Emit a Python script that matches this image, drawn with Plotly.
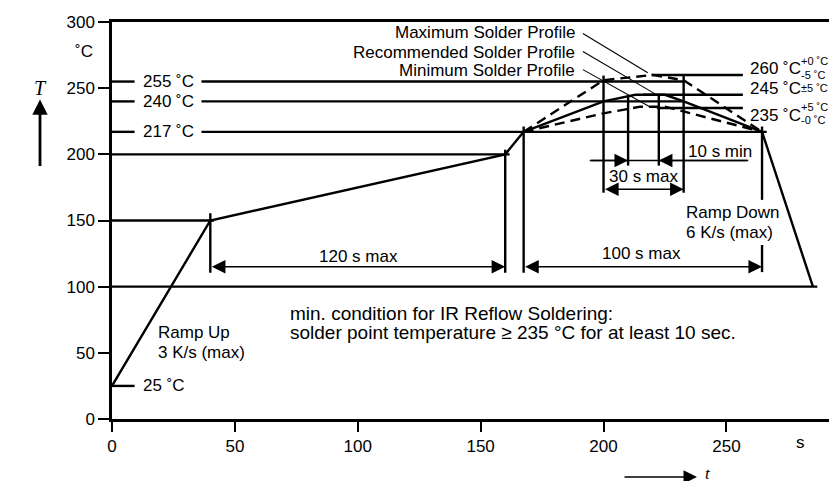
import plotly.graph_objects as go

# ---------------- data ----------------
x_ticks = [0, 50, 100, 150, 200, 250]
y_ticks = [0, 50, 100, 150, 200, 250, 300]

# solid preheat / soak profile
ramp_t = [0, 40, 160, 167.5]
ramp_T = [25, 150, 200, 217]
# recommended profile (solid)
rec_t = [167.5, 200, 213, 225, 232.6, 264.5]
rec_T = [217, 240, 245, 245, 240, 217]
# maximum profile (dashed)
max_t = [167.5, 200, 220, 232.6, 264.5]
max_T = [217, 256, 260, 256, 217]
# minimum profile (dashed)
min_t = [167.5, 200, 215, 225, 264.5]
min_T = [217, 231, 236, 236, 217]
# ramp down
down_t = [264.5, 285.2]
down_T = [217, 100]

# horizontal level lines (None = gap for the label)
h255_t = [0, 9.2, None, 36.4, 232.6]
h240_t = [0, 9.2, None, 36.4, 232.6]
h217_t = [0, 9.2, None, 36.4, 266.4]
h200_t = [0, 161.8]
h150_t = [0, 41.5]
h100_t = [0, 287]
h25_t = [0, 9.2]
h260_t = [219.5, 256.7]
h245_t = [216, 256.7]
h235_t = [221.7, 256.7]

# vertical marker lines: (t, T_low, T_high)
vert_t = [40, 160, 167.5, 264.5, 264.5, 200, 232.6, 210, 222.5]
vert_lo = [110.5, 110.5, 110.5, 111, 165.6, 171, 171, 191.5, 191.5]
vert_hi = [155.5, 203.5, 221, 131.5, 221, 259.5, 259.5, 244.5, 245]

# leader lines from profile labels
lead_t0 = [191.6, 191.6, 191.6]
lead_T0 = [291.3, 277.7, 264]
lead_t1 = [218, 222.9, 218.8]
lead_T1 = [261.7, 243.6, 236]
profile_labels = ["Maximum Solder Profile", "Recommended Solder Profile", "Minimum Solder Profile"]
profile_label_T = [291.7, 277.3, 263]

# level labels on the left
lvl_labels = ["255 ˚C", "240 ˚C", "217 ˚C", "25 ˚C"]
lvl_T = [255, 240, 217, 25]

# peak labels on the right
peak_labels = ["260 ˚C", "245 ˚C", "235 ˚C"]
peak_T = [265, 249.9, 229.7]
tol_labels = ["+0\u00a0˚C", "-5\u00a0˚C", "±5\u00a0˚C", "+5\u00a0˚C", "-0\u00a0˚C"]
tol_T = [270.5, 260, 250.1, 235.8, 226]

FONT = "Liberation Sans, Arial, Helvetica, sans-serif"
LW = 2.4

fig = go.Figure()


def add_line(t, T, width=LW, dash=None):
    fig.add_trace(go.Scatter(x=t, y=T, mode="lines", hoverinfo="skip",
                             line=dict(color="black", width=width, dash=dash)))


add_line(ramp_t, ramp_T)
add_line(rec_t, rec_T)
add_line(max_t, max_T, dash="10px,6px")
add_line(min_t, min_T, dash="10px,6px")
add_line(down_t, down_T)

for ht, hT in [(h255_t, 255), (h240_t, 240), (h217_t, 217), (h200_t, 200),
               (h150_t, 150), (h100_t, 100), (h25_t, 25),
               (h260_t, 260), (h245_t, 245), (h235_t, 235)]:
    add_line(ht, [hT if v is not None else None for v in ht])

vx, vy = [], []
for t, lo, hi in zip(vert_t, vert_lo, vert_hi):
    vx += [t, t, None]
    vy += [lo, hi, None]
add_line(vx, vy)

lx, ly = [], []
for a, b, c, d in zip(lead_t0, lead_T0, lead_t1, lead_T1):
    lx += [a, c, None]
    ly += [b, d, None]
add_line(lx, ly, width=1.1)

# 10 s min base line
add_line([194.4, 258.9], [195.3, 195.3], width=1.6)


def arrow(xh, yh, xt, yt, both=False):
    fig.add_annotation(x=xh, y=yh, ax=xt, ay=yt, xref="x", yref="y",
                       axref="x", ayref="y", text="", showarrow=True,
                       arrowhead=2, arrowsize=1.7, arrowwidth=1.6,
                       arrowcolor="black",
                       startarrowhead=2, startarrowsize=1.7,
                       arrowside="end+start" if both else "end",
                       standoff=0, startstandoff=0)


arrow(160, 115, 40, 115, both=True)
arrow(264.5, 115, 167.5, 115, both=True)
arrow(232.6, 173.6, 200, 173.6, both=True)
arrow(210, 195.3, 194.4, 195.3)
arrow(222.5, 195.3, 258.9, 195.3)


def text(x, y, s, xanchor="left", size=17, xref="x", yref="y", family=FONT):
    fig.add_annotation(x=x, y=y, xref=xref, yref=yref, text=s, showarrow=False,
                       xanchor=xanchor, yanchor="middle",
                       font=dict(family=family, size=size, color="black"))


for s, T in zip(lvl_labels, lvl_T):
    text(12.0, T, s)
for s, T in zip(profile_labels, profile_label_T):
    text(189.2, T, s, xanchor="right")
for s, T in zip(peak_labels, peak_T):
    text(258.8, T, s)
for s, T in zip(tol_labels, tol_T):
    text(279.6, T, s, size=11)

text(100.2, 122.6, "120 s max", xanchor="center")
text(215.5, 124.7, "100 s max", xanchor="center")
text(216.3, 182.9, "30 s max", xanchor="center")
text(233.4, 202.0, "10 s min")
text(18.0, 65.0, "Ramp Up")
text(18.0, 50.6, "3 K/s (max)")
text(232.7, 155.7, "Ramp Down")
text(232.7, 140.6, "6 K/s (max)")
text(71.8, 80.1, "min. condition for IR Reflow Soldering:", size=19)
text(71.8, 65.0, "solder point temperature ≥ 235 °C for at least 10 sec.", size=19)

# axis unit labels (outside plot area, paper coords)
text(-0.0235, 277.8, "˚C", xanchor="right", xref="paper")
text(-0.0993, 0.8338, "<i>T</i>", xanchor="center", xref="paper", yref="paper",
     size=20, family="Liberation Serif, Times New Roman, serif")
fig.add_annotation(x=-0.0993, y=0.805, xref="paper", yref="paper", ax=0, ay=68,
                   text="", showarrow=True, arrowhead=2, arrowsize=1.1,
                   arrowwidth=2.8, arrowcolor="black", standoff=0)
fig.add_annotation(x=0.8069, y=-0.146, xref="paper", yref="paper", ax=-74, ay=0,
                   text="", showarrow=True, arrowhead=2, arrowsize=1.8,
                   arrowwidth=1.5, arrowcolor="black", standoff=0)
text(0.8145, -0.137, "<i>t</i>", xref="paper", yref="paper", size=17,
     family="Liberation Serif, Times New Roman, serif")
text(0.949, -0.058, "s", xanchor="center", xref="paper", yref="paper")
text(1.017, -0.058, "300", xanchor="center", xref="paper", yref="paper")

# page body has an 8px margin: shrink the figure so the plot lands where the reference has it
fig.update_layout(
    width=829, height=473,
    margin=dict(l=104, r=0, t=14, b=62),
    plot_bgcolor="white", paper_bgcolor="white",
    showlegend=False,
    font=dict(family=FONT, size=17, color="black"),
    xaxis=dict(range=[0, 295], tickvals=x_ticks, showgrid=False, zeroline=False,
               showline=True, mirror=True, linecolor="black", linewidth=2.5,
               ticks="outside", ticklen=10, tickwidth=2, tickcolor="black",
               tickfont=dict(family=FONT, size=17, color="black"), fixedrange=True),
    yaxis=dict(range=[0, 300], tickvals=y_ticks, showgrid=False, zeroline=False,
               showline=True, linecolor="black", linewidth=2.5,
               ticks="outside", ticklen=11, tickwidth=2, tickcolor="black",
               tickfont=dict(family=FONT, size=17, color="black"), fixedrange=True),
)

fig.write_html("out.html")
